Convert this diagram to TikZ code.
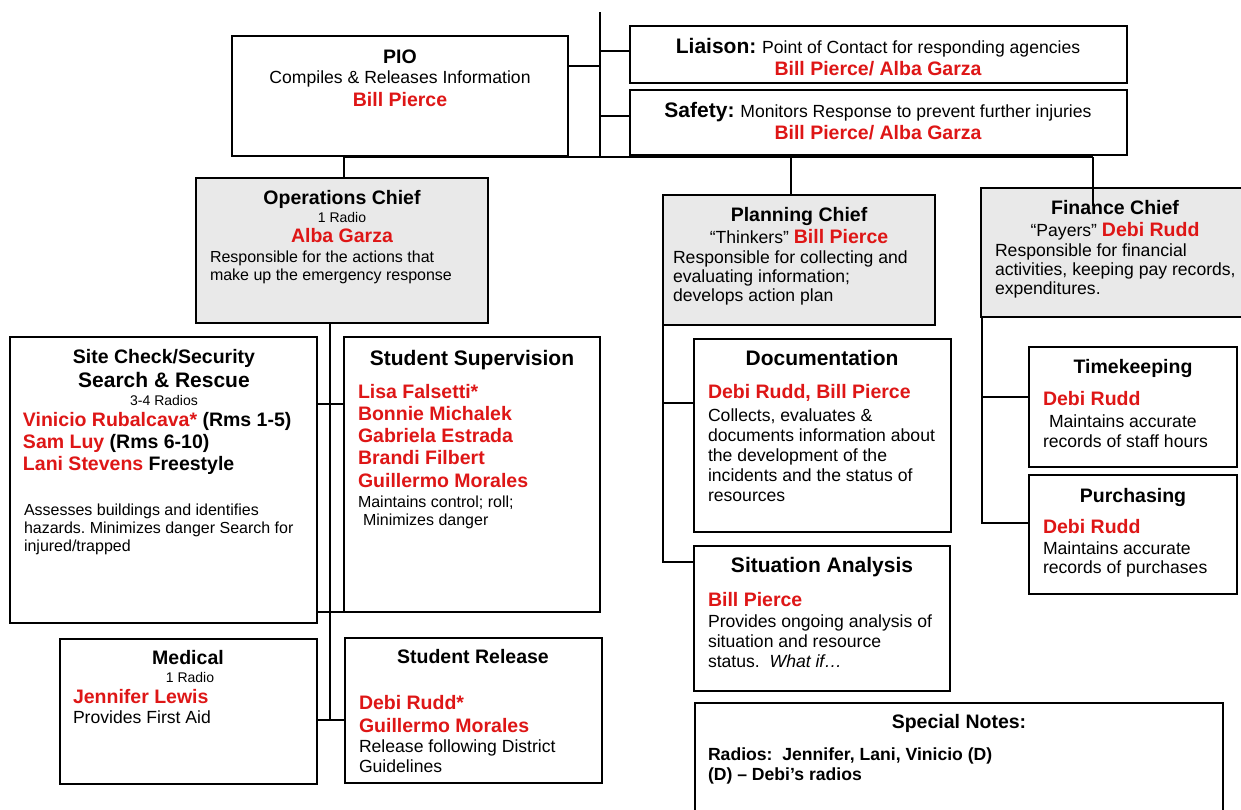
\documentclass[tikz,border=0pt]{standalone}
\usepackage{fontspec}
\setmainfont{Liberation Sans}
\frenchspacing
\definecolor{nred}{RGB}{222,22,22}
\definecolor{gfill}{RGB}{233,233,233}
\newcommand\fTitle{\fontsize{19.5}{22}\selectfont\bfseries}
\newcommand\fBig{\fontsize{21}{24}\selectfont\bfseries}
\newcommand\fBody{\fontsize{17.6}{20}\selectfont}
\newcommand\fSm{\fontsize{16}{18}\selectfont}
\newcommand\fTiny{\fontsize{14}{16}\selectfont}
\newcommand\fName{\fontsize{19.5}{22}\selectfont\bfseries\color{nred}}
\newcommand\fBlk{\fontsize{19.5}{22}\selectfont\bfseries}
\newcommand\Tln[4]{\node[anchor=#2] (#1) at (#3) {#4};}
\begin{document}
\begin{tikzpicture}[x=1pt,y=-1pt,
  every node/.style={inner sep=0pt, outer sep=0pt},
  box/.style={draw=black, line width=1.8pt, fill=white, anchor=north west},
  gbox/.style={box, fill=gfill},
  conn/.style={draw=black, line width=1.8pt}]
\useasboundingbox (0,0) rectangle (1241,809);
% ---- boxes
\node[box, minimum width=336pt, minimum height=120pt] (pio) at (232,36) {};
\node[box, minimum width=497pt, minimum height=57pt] (lia) at (630,26) {};
\node[box, minimum width=497pt, minimum height=65pt] (saf) at (630,90) {};
\node[gbox, minimum width=292pt, minimum height=145pt] (ops) at (196,178) {};
\node[gbox, minimum width=272pt, minimum height=130pt] (pln) at (663,195) {};
\node[gbox, minimum width=269pt, minimum height=129pt] (fin) at (981,188) {};
\node[box, minimum width=307pt, minimum height=286pt] (sc) at (10,337) {};
\node[box, minimum width=256pt, minimum height=275pt] (ss) at (344,337) {};
\node[box, minimum width=257pt, minimum height=193pt] (doc) at (694,339) {};
\node[box, minimum width=256pt, minimum height=145pt] (sa) at (694,546) {};
\node[box, minimum width=208pt, minimum height=120pt] (tk) at (1029,347) {};
\node[box, minimum width=208pt, minimum height=119pt] (pu) at (1029,475) {};
\node[box, minimum width=257pt, minimum height=145pt] (md) at (60,639) {};
\node[box, minimum width=257pt, minimum height=145pt] (sr) at (345,638) {};
\node[box, minimum width=528pt, minimum height=130pt] (sn) at (695,703) {};
% ---- connectors
\coordinate (top) at (600,12);
\coordinate (busM) at (600,157);
\coordinate (jp) at (600,66);
\coordinate (jl) at (600,51);
\coordinate (js) at (600,116);
\coordinate (busL) at (344,157);
\coordinate (busP) at (791,157);
\coordinate (busR) at (1093,157);
\coordinate (finIn) at (1093,206);
\coordinate (lv) at (330,720);
\coordinate (c1) at (330,404);
\coordinate (c2) at (330,612);
\coordinate (pd) at (663,403);
\coordinate (pv) at (663,562);
\coordinate (ft) at (982,397);
\coordinate (fv) at (982,523);
\draw[conn] (top) -- (busM);
\draw[conn] (pio.east |- jp) -- (jp);
\draw[conn] (jl) -- (lia.west |- jl);
\draw[conn] (js) -- (saf.west |- js);
\draw[conn] (busL) -- (busR);
\draw[conn] (busL) -- (ops.north -| busL);
\draw[conn] (busP) -- (pln.north -| busP);
\draw[conn] (busR) -- (finIn);
\draw[conn] (ops.south -| lv) -- (lv);
\draw[conn] (sc.east |- c1) -- (ss.west |- c1);
\draw[conn] (sc.east |- c2) -- (ss.west |- c2);
\draw[conn] (md.east |- lv) -- (sr.west |- lv);
\draw[conn] (pln.south west) -- (pv) -- (sa.west |- pv);
\draw[conn] (pd) -- (doc.west |- pd);
\draw[conn] (fin.south west -| fv) -- (fv) -- (pu.west |- fv);
\draw[conn] (ft) -- (tk.west |- ft);
% ---- PIO
\Tln{pio1}{base}{400,63}{\fTitle PIO}
\Tln{pio2}{base}{400,83}{\fBody Compiles \& Releases Information}
\Tln{pio3}{base}{400,106}{\fName Bill Pierce}
% ---- Liaison / Safety
\Tln{lia1}{base}{878,53}{{\fBig Liaison:\ }\fBody Point of Contact for responding agencies}
\Tln{lia2}{base}{878,75}{\fName Bill Pierce/ Alba Garza}
\Tln{saf1}{base}{878,117}{{\fBig Safety:\ }\fBody Monitors Response to prevent further injuries}
\Tln{saf2}{base}{878,139}{\fName Bill Pierce/ Alba Garza}
% ---- Operations
\Tln{ops1}{base}{342,204}{\fTitle Operations Chief}
\Tln{ops2}{base}{342,222}{\fTiny 1 Radio}
\Tln{ops3}{base}{342,242}{\fName Alba Garza}
\Tln{ops4}{base west}{210,262}{\fSm Responsible for the actions that}
\Tln{ops5}{base west}{210,280}{\fSm make up the emergency response}
% ---- Planning
\Tln{pln1}{base}{799,221}{\fTitle Planning Chief}
\Tln{pln2}{base}{799,243}{\fBody “Thinkers” {\fName Bill Pierce}}
\Tln{pln3}{base west}{673,263}{\fBody Responsible for collecting and}
\Tln{pln4}{base west}{673,282}{\fBody evaluating information;}
\Tln{pln5}{base west}{673,301}{\fBody develops action plan}
% ---- Finance
\Tln{fin1}{base}{1115,214}{\fTitle Finance Chief}
\Tln{fin2}{base}{1115,236}{\fBody “Payers” {\fName Debi Rudd}}
\Tln{fin3}{base west}{995,256}{\fBody Responsible for financial}
\Tln{fin4}{base west}{995,275}{\fBody activities, keeping pay records,}
\Tln{fin5}{base west}{995,294}{\fBody expenditures.}
% ---- Site check
\Tln{sc1}{base}{164,363}{\fTitle Site Check/Security}
\Tln{sc2}{base}{164,387}{\fBig Search \& Rescue}
\Tln{sc3}{base}{164,405}{\fTiny 3-4 Radios}
\Tln{sc4}{base west}{23,426}{{\fName Vinicio Rubalcava*\ }\fBlk (Rms 1-5)}
\Tln{sc5}{base west}{23,448}{{\fName Sam Luy\ }\fBlk (Rms 6-10)}
\Tln{sc6}{base west}{23,470}{{\fName Lani Stevens\ }\fBlk Freestyle}
\Tln{sc7}{base west}{24,515}{\fSm Assesses buildings and identifies}
\Tln{sc8}{base west}{24,533}{\fSm hazards. Minimizes danger Search for}
\Tln{sc9}{base west}{24,551}{\fSm injured/trapped}
% ---- Student supervision
\Tln{ss1}{base}{472,365}{\fBig Student Supervision}
\Tln{ss2}{base west}{358,398}{\fName Lisa Falsetti*}
\Tln{ss3}{base west}{358,420}{\fName Bonnie Michalek}
\Tln{ss4}{base west}{358,442}{\fName Gabriela Estrada}
\Tln{ss5}{base west}{358,464}{\fName Brandi Filbert}
\Tln{ss6}{base west}{358,487}{\fName Guillermo Morales}
\Tln{ss7}{base west}{358,507}{\fSm Maintains control; roll;}
\Tln{ss8}{base west}{363,525}{\fSm Minimizes danger}
% ---- Documentation
\Tln{doc1}{base}{822,365}{\fBig Documentation}
\Tln{doc2}{base west}{708,398}{\fName Debi Rudd, Bill Pierce}
\Tln{doc3}{base west}{708,421}{\fBody Collects, evaluates \&}
\Tln{doc4}{base west}{708,441}{\fBody documents information about}
\Tln{doc5}{base west}{708,461}{\fBody the development of the}
\Tln{doc6}{base west}{708,481}{\fBody incidents and the status of}
\Tln{doc7}{base west}{708,501}{\fBody resources}
% ---- Situation analysis
\Tln{sa1}{base}{822,572}{\fBig Situation Analysis}
\Tln{sa2}{base west}{708,606}{\fName Bill Pierce}
\Tln{sa3}{base west}{708,627}{\fBody Provides ongoing analysis of}
\Tln{sa4}{base west}{708,647}{\fBody situation and resource}
\Tln{sa5}{base west}{708,667}{\fBody status.\ \ \textit{What if…}}
% ---- Special notes
\Tln{sn1}{base}{959,728}{\fTitle Special Notes:}
\Tln{sn2}{base west}{708,760}{\fBody\bfseries Radios:\ \ Jennifer, Lani, Vinicio (D)}
\Tln{sn3}{base west}{708,780}{\fBody\bfseries (D) – Debi’s radios}
% ---- Timekeeping / Purchasing
\Tln{tk1}{base}{1133,373}{\fTitle Timekeeping}
\Tln{tk2}{base west}{1043,405}{\fName Debi Rudd}
\Tln{tk3}{base west}{1049,427}{\fBody Maintains accurate}
\Tln{tk4}{base west}{1043,447}{\fBody records of staff hours}
\Tln{pu1}{base}{1133,502}{\fTitle Purchasing}
\Tln{pu2}{base west}{1043,533}{\fName Debi Rudd}
\Tln{pu3}{base west}{1043,554}{\fBody Maintains accurate}
\Tln{pu4}{base west}{1043,573}{\fBody records of purchases}
% ---- Medical / Student release
\Tln{md1}{base}{188,664}{\fTitle Medical}
\Tln{md2}{base}{190,682}{\fTiny 1 Radio}
\Tln{md3}{base west}{73,703}{\fName Jennifer Lewis}
\Tln{md4}{base west}{73,723}{\fBody Provides First Aid}
\Tln{sr1}{base}{473,663}{\fTitle Student Release}
\Tln{sr2}{base west}{359,709}{\fName Debi Rudd*}
\Tln{sr3}{base west}{359,732}{\fName Guillermo Morales}
\Tln{sr4}{base west}{359,752}{\fBody Release following District}
\Tln{sr5}{base west}{359,772}{\fBody Guidelines}
\end{tikzpicture}
\end{document}
